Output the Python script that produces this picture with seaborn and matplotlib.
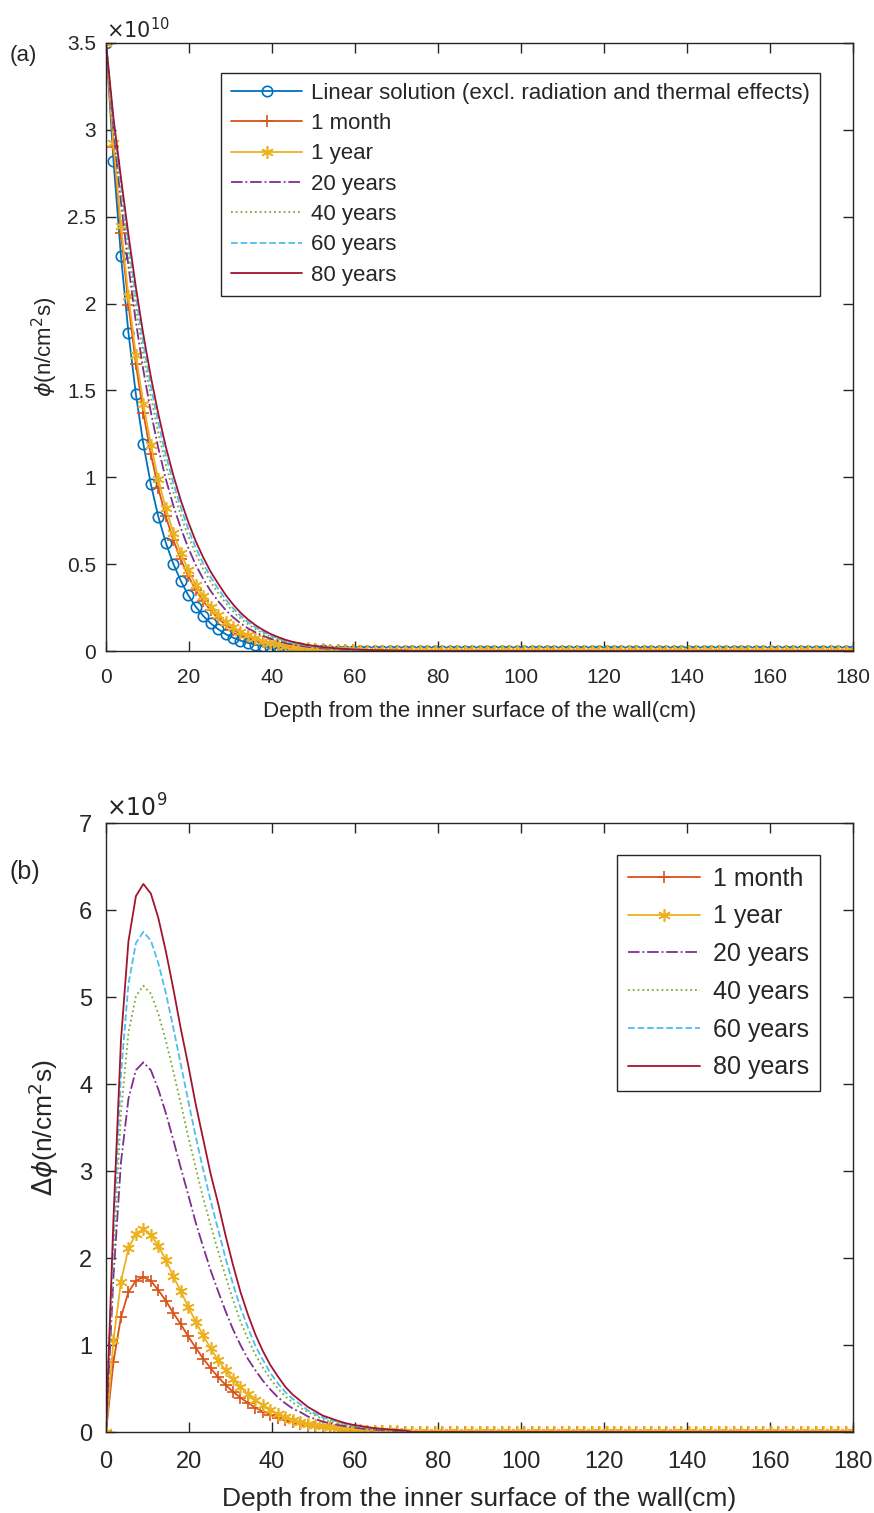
import numpy as np
import pandas as pd
import matplotlib
matplotlib.use("Agg")
import matplotlib.pyplot as plt
import seaborn as sns

# ==========================================
# DATA
# ==========================================
# depth grid in cm, one sample every 1.8 cm from 0 to 180
depth = np.linspace(0, 180, 101)

# --- panel (a): neutron flux phi, units of 1e10 n/cm^2 s
phi_linear = [
    3.5, 2.821, 2.274, 1.833, 1.477, 1.191, 0.960, 0.774, 0.624, 0.503,
    0.405, 0.322, 0.256, 0.203, 0.160, 0.126, 0.098, 0.077, 0.060, 0.047,
    0.037, 0.029, 0.022, 0.017, 0.013, 0.010, 0.0078, 0.006, 0.0046, 0.0035,
    0.0027, 0.002, 0.0015, 0.0012, 0.0009, 0.0007, 0.0005, 0.0004, 0.0003, 0.0002,
    0.0002,
    0, 0, 0, 0, 0, 0, 0, 0, 0, 0, 0, 0, 0, 0, 0, 0, 0, 0, 0, 0,
    0, 0, 0, 0, 0, 0, 0, 0, 0, 0, 0, 0, 0, 0, 0, 0, 0, 0, 0, 0,
    0, 0, 0, 0, 0, 0, 0, 0, 0, 0, 0, 0, 0, 0, 0, 0, 0, 0, 0, 0,
]
phi_1month = [
    3.5, 2.902, 2.406, 1.994, 1.651, 1.369, 1.134, 0.937, 0.775, 0.640,
    0.529, 0.432, 0.353, 0.288, 0.234, 0.189, 0.152, 0.123, 0.0995, 0.0805,
    0.0651, 0.0525, 0.0416, 0.0332, 0.0264, 0.021, 0.0169, 0.0135, 0.0107, 0.0085,
    0.0068, 0.0052, 0.0042, 0.0033, 0.0026, 0.002, 0.0016, 0.0013, 0.001, 0.0007,
    0.0006,
    0, 0, 0, 0, 0, 0, 0, 0, 0, 0, 0, 0, 0, 0, 0, 0, 0, 0, 0, 0,
    0, 0, 0, 0, 0, 0, 0, 0, 0, 0, 0, 0, 0, 0, 0, 0, 0, 0, 0, 0,
    0, 0, 0, 0, 0, 0, 0, 0, 0, 0, 0, 0, 0, 0, 0, 0, 0, 0, 0, 0,
]
phi_1year = [
    3.5, 2.927, 2.447, 2.044, 1.705, 1.424, 1.187, 0.988, 0.822, 0.682,
    0.567, 0.466, 0.383, 0.314, 0.256, 0.209, 0.169, 0.138, 0.112, 0.0908,
    0.0738, 0.0598, 0.0476, 0.0382, 0.0305, 0.0244, 0.0197, 0.0158, 0.0125, 0.01,
    0.0081, 0.0062, 0.005, 0.004, 0.0031, 0.0024, 0.0019, 0.0015, 0.0012, 0.0009,
    0.0008,
    0, 0, 0, 0, 0, 0, 0, 0, 0, 0, 0, 0, 0, 0, 0, 0, 0, 0, 0, 0,
    0, 0, 0, 0, 0, 0, 0, 0, 0, 0, 0, 0, 0, 0, 0, 0, 0, 0, 0, 0,
    0, 0, 0, 0, 0, 0, 0, 0, 0, 0, 0, 0, 0, 0, 0, 0, 0, 0, 0, 0,
]
phi_20y = [
    3.5, 3.000, 2.584, 2.216, 1.893, 1.616, 1.376, 1.168, 0.991, 0.839,
    0.709, 0.595, 0.497, 0.416, 0.346, 0.288, 0.237, 0.195, 0.160, 0.131,
    0.108, 0.088, 0.071, 0.057, 0.046, 0.037, 0.0308, 0.024, 0.0196, 0.0155,
    0.0127, 0.0101, 0.0083, 0.0067, 0.0052, 0.0041, 0.0033, 0.0025, 0.002, 0.0015,
    0.0013,
    0, 0, 0, 0, 0, 0, 0, 0, 0, 0, 0, 0, 0, 0, 0, 0, 0, 0, 0, 0,
    0, 0, 0, 0, 0, 0, 0, 0, 0, 0, 0, 0, 0, 0, 0, 0, 0, 0, 0, 0,
    0, 0, 0, 0, 0, 0, 0, 0, 0, 0, 0, 0, 0, 0, 0, 0, 0, 0, 0, 0,
]
phi_40y = [
    3.5, 3.021, 2.641, 2.292, 1.978, 1.704, 1.464, 1.255, 1.074, 0.918,
    0.783, 0.662, 0.560, 0.472, 0.398, 0.334, 0.277, 0.229, 0.187, 0.154,
    0.126, 0.103, 0.083, 0.067, 0.054, 0.044, 0.0358, 0.029, 0.0236, 0.0185,
    0.0147, 0.012, 0.0097, 0.0079, 0.0065, 0.0052, 0.0041, 0.0032, 0.0026, 0.002,
    0.0016,
    0, 0, 0, 0, 0, 0, 0, 0, 0, 0, 0, 0, 0, 0, 0, 0, 0, 0, 0, 0,
    0, 0, 0, 0, 0, 0, 0, 0, 0, 0, 0, 0, 0, 0, 0, 0, 0, 0, 0, 0,
    0, 0, 0, 0, 0, 0, 0, 0, 0, 0, 0, 0, 0, 0, 0, 0, 0, 0, 0, 0,
]
phi_60y = [
    3.5, 3.045, 2.685, 2.348, 2.039, 1.766, 1.525, 1.313, 1.129, 0.968,
    0.828, 0.703, 0.596, 0.505, 0.426, 0.359, 0.298, 0.247, 0.203, 0.167,
    0.136, 0.112, 0.090, 0.073, 0.059, 0.048, 0.0398, 0.031, 0.0256, 0.0205,
    0.0167, 0.014, 0.0107, 0.0087, 0.0072, 0.0057, 0.0045, 0.0036, 0.0028, 0.0022,
    0.0018,
    0, 0, 0, 0, 0, 0, 0, 0, 0, 0, 0, 0, 0, 0, 0, 0, 0, 0, 0, 0,
    0, 0, 0, 0, 0, 0, 0, 0, 0, 0, 0, 0, 0, 0, 0, 0, 0, 0, 0, 0,
    0, 0, 0, 0, 0, 0, 0, 0, 0, 0, 0, 0, 0, 0, 0, 0, 0, 0, 0, 0,
]
phi_80y = [
    3.5, 3.067, 2.724, 2.397, 2.093, 1.821, 1.579, 1.365, 1.177, 1.013,
    0.869, 0.744, 0.633, 0.540, 0.457, 0.389, 0.324, 0.269, 0.221, 0.182,
    0.149, 0.122, 0.099, 0.081, 0.065, 0.053, 0.0438, 0.035, 0.0286, 0.0225,
    0.0187, 0.015, 0.0119, 0.0096, 0.008, 0.0063, 0.005, 0.004, 0.0032, 0.0025,
    0.002,
    0, 0, 0, 0, 0, 0, 0, 0, 0, 0, 0, 0, 0, 0, 0, 0, 0, 0, 0, 0,
    0, 0, 0, 0, 0, 0, 0, 0, 0, 0, 0, 0, 0, 0, 0, 0, 0, 0, 0, 0,
    0, 0, 0, 0, 0, 0, 0, 0, 0, 0, 0, 0, 0, 0, 0, 0, 0, 0, 0, 0,
]

# --- panel (b): flux increase delta phi, units of 1e9 n/cm^2 s
dphi_1month = [
    0, 0.81, 1.32, 1.61, 1.74, 1.78, 1.74, 1.63, 1.51, 1.37,
    1.24, 1.10, 0.97, 0.845, 0.735, 0.632, 0.543, 0.463, 0.395, 0.335,
    0.281, 0.235, 0.196, 0.162, 0.134, 0.110, 0.091, 0.075, 0.061, 0.050,
    0.041, 0.032, 0.027, 0.021, 0.017, 0.013, 0.011, 0.009, 0.007, 0.005,
    0.004,
    0, 0, 0, 0, 0, 0, 0, 0, 0, 0, 0, 0, 0, 0, 0, 0, 0, 0, 0, 0,
    0, 0, 0, 0, 0, 0, 0, 0, 0, 0, 0, 0, 0, 0, 0, 0, 0, 0, 0, 0,
    0, 0, 0, 0, 0, 0, 0, 0, 0, 0, 0, 0, 0, 0, 0, 0, 0, 0, 0, 0,
]
dphi_1year = [
    0, 1.06, 1.73, 2.11, 2.28, 2.33, 2.27, 2.14, 1.98, 1.79,
    1.62, 1.44, 1.27, 1.11, 0.962, 0.827, 0.711, 0.606, 0.517, 0.438,
    0.368, 0.308, 0.256, 0.212, 0.175, 0.144, 0.119, 0.098, 0.079, 0.065,
    0.054, 0.042, 0.035, 0.028, 0.022, 0.017, 0.014, 0.011, 0.009, 0.007,
    0.006,
    0, 0, 0, 0, 0, 0, 0, 0, 0, 0, 0, 0, 0, 0, 0, 0, 0, 0, 0, 0,
    0, 0, 0, 0, 0, 0, 0, 0, 0, 0, 0, 0, 0, 0, 0, 0, 0, 0, 0, 0,
    0, 0, 0, 0, 0, 0, 0, 0, 0, 0, 0, 0, 0, 0, 0, 0, 0, 0, 0, 0,
]
dphi_20y = [
    0, 1.79, 3.10, 3.83, 4.16, 4.25, 4.16, 3.94, 3.67, 3.36,
    3.04, 2.73, 2.41, 2.13, 1.86, 1.62, 1.39, 1.18, 1.00, 0.84,
    0.71, 0.59, 0.49, 0.40, 0.33, 0.27, 0.23, 0.18, 0.15, 0.12,
    0.10, 0.081, 0.068, 0.055, 0.043, 0.034, 0.028, 0.021, 0.017, 0.013,
    0.011,
    0, 0, 0, 0, 0, 0, 0, 0, 0, 0, 0, 0, 0, 0, 0, 0, 0, 0, 0, 0,
    0, 0, 0, 0, 0, 0, 0, 0, 0, 0, 0, 0, 0, 0, 0, 0, 0, 0, 0, 0,
    0, 0, 0, 0, 0, 0, 0, 0, 0, 0, 0, 0, 0, 0, 0, 0, 0, 0, 0, 0,
]
dphi_40y = [
    0, 2.00, 3.67, 4.59, 5.01, 5.13, 5.04, 4.81, 4.50, 4.15,
    3.78, 3.40, 3.04, 2.69, 2.38, 2.08, 1.79, 1.52, 1.27, 1.07,
    0.89, 0.74, 0.61, 0.50, 0.41, 0.34, 0.28, 0.23, 0.19, 0.15,
    0.12, 0.10, 0.082, 0.067, 0.056, 0.045, 0.036, 0.028, 0.023, 0.018,
    0.014,
    0, 0, 0, 0, 0, 0, 0, 0, 0, 0, 0, 0, 0, 0, 0, 0, 0, 0, 0, 0,
    0, 0, 0, 0, 0, 0, 0, 0, 0, 0, 0, 0, 0, 0, 0, 0, 0, 0, 0, 0,
    0, 0, 0, 0, 0, 0, 0, 0, 0, 0, 0, 0, 0, 0, 0, 0, 0, 0, 0, 0,
]
dphi_60y = [
    0, 2.24, 4.11, 5.15, 5.62, 5.75, 5.65, 5.39, 5.05, 4.65,
    4.23, 3.81, 3.40, 3.02, 2.66, 2.33, 2.00, 1.70, 1.43, 1.20,
    0.99, 0.83, 0.68, 0.56, 0.46, 0.38, 0.32, 0.25, 0.21, 0.17,
    0.14, 0.12, 0.092, 0.075, 0.063, 0.050, 0.040, 0.032, 0.025, 0.020,
    0.016,
    0, 0, 0, 0, 0, 0, 0, 0, 0, 0, 0, 0, 0, 0, 0, 0, 0, 0, 0, 0,
    0, 0, 0, 0, 0, 0, 0, 0, 0, 0, 0, 0, 0, 0, 0, 0, 0, 0, 0, 0,
    0, 0, 0, 0, 0, 0, 0, 0, 0, 0, 0, 0, 0, 0, 0, 0, 0, 0, 0, 0,
]
dphi_80y = [
    0, 2.46, 4.50, 5.64, 6.16, 6.30, 6.19, 5.91, 5.53, 5.10,
    4.64, 4.22, 3.77, 3.37, 2.97, 2.63, 2.26, 1.92, 1.61, 1.35,
    1.12, 0.93, 0.77, 0.64, 0.52, 0.43, 0.36, 0.29, 0.24, 0.19,
    0.16, 0.13, 0.104, 0.084, 0.071, 0.056, 0.045, 0.036, 0.029, 0.023,
    0.018,
    0, 0, 0, 0, 0, 0, 0, 0, 0, 0, 0, 0, 0, 0, 0, 0, 0, 0, 0, 0,
    0, 0, 0, 0, 0, 0, 0, 0, 0, 0, 0, 0, 0, 0, 0, 0, 0, 0, 0, 0,
    0, 0, 0, 0, 0, 0, 0, 0, 0, 0, 0, 0, 0, 0, 0, 0, 0, 0, 0, 0,
]

labels_a = ["Linear solution (excl. radiation and thermal effects)", "1 month",
            "1 year", "20 years", "40 years", "60 years", "80 years"]
labels_b = labels_a[1:]

# ==========================================
# STYLE (MATLAB-like defaults)
# ==========================================
ASTERISK = (6, 2, 0)  # line asterisk like MATLAB's '*'
# label -> (color, linestyle, marker, markersize)
styles = {
    labels_a[0]: ("#0072BD", "-", "o", 7.5),
    "1 month": ("#D95319", "-", "+", 8),
    "1 year": ("#EDB120", "-", ASTERISK, 9),
    "20 years": ("#7E2F8E", "-.", None, 0),
    "40 years": ("#77AC30", ":", None, 0),
    "60 years": ("#4DBEEE", "--", None, 0),
    "80 years": ("#A2142F", "-", None, 0),
}

sns.set_theme(style="ticks")
plt.rcParams["font.family"] = ["Liberation Sans", "DejaVu Sans"]
plt.rcParams["axes.edgecolor"] = "#262626"
plt.rcParams["xtick.color"] = "#262626"
plt.rcParams["ytick.color"] = "#262626"

fig = plt.figure(figsize=(8.74, 15.13), dpi=100)
ax_a = fig.add_axes([0.1213, 0.5697, 0.8547, 0.4019])
ax_b = fig.add_axes([0.1213, 0.0535, 0.8547, 0.4025])


def draw(ax, names, series):
    long = pd.concat(
        [pd.DataFrame({"depth": depth, "value": vals, "case": name})
         for name, vals in zip(names, series)],
        ignore_index=True,
    )
    for name in names:
        color, ls, marker, ms = styles[name]
        sub = long[long["case"] == name]
        sns.lineplot(data=sub, x="depth", y="value", ax=ax, color=color,
                     linestyle=ls, marker=marker if marker else "",
                     markersize=ms, markeredgecolor=color,
                     markeredgewidth=1.2, markerfacecolor="none",
                     linewidth=1.3, label=name, sort=False)


def style_axes(ax, ymax, tick_fs, label_fs, ylabel, exponent,
               xpad, ypad, xlpad, ylpad):
    ax.set_xlim(0, 180)
    ax.set_ylim(0, ymax)
    ax.set_xticks(np.arange(0, 181, 20))
    ax.tick_params(direction="in", top=True, right=True, length=7,
                   width=1, labelsize=tick_fs, labelcolor="#262626")
    ax.tick_params(axis="x", pad=xpad)
    ax.tick_params(axis="y", pad=ypad)
    for sp in ax.spines.values():
        sp.set_linewidth(1.0)
        sp.set_visible(True)
    ax.set_xlabel("Depth from the inner surface of the wall(cm)",
                  fontsize=label_fs, color="#262626", labelpad=xlpad)
    ax.set_ylabel(ylabel, fontsize=label_fs, color="#262626", labelpad=ylpad)
    ax.text(0.0, 1.002, r"$\times10^{%d}$" % exponent, transform=ax.transAxes,
            ha="left", va="bottom", fontsize=tick_fs, color="#262626")


# ---- panel (a)
draw(ax_a, labels_a, [phi_linear, phi_1month, phi_1year, phi_20y,
                      phi_40y, phi_60y, phi_80y])
style_axes(ax_a, 3.5, 15, 16, r"$\phi$(n/cm$^2$s)", 10,
           xpad=12, ypad=7, xlpad=10, ylpad=5)
ax_a.set_yticks(np.arange(0, 3.51, 0.5))
ax_a.set_yticklabels(["0", "0.5", "1", "1.5", "2", "2.5", "3", "3.5"],
                     fontsize=15)
leg = ax_a.legend(loc="upper right", bbox_to_anchor=(0.956, 0.951),
                  borderaxespad=0, fontsize=16, frameon=True, fancybox=False,
                  framealpha=1, edgecolor="#262626", handlelength=3.2,
                  labelspacing=0.42, borderpad=0.45, handletextpad=0.4)
leg.get_frame().set_linewidth(1.0)

# ---- panel (b)
draw(ax_b, labels_b, [dphi_1month, dphi_1year, dphi_20y, dphi_40y,
                      dphi_60y, dphi_80y])
style_axes(ax_b, 7, 17, 19, r"$\Delta\phi$(n/cm$^2$s)", 9,
           xpad=14, ypad=10, xlpad=10, ylpad=13)
ax_b.set_yticks(np.arange(0, 8, 1))
leg = ax_b.legend(loc="upper right", bbox_to_anchor=(0.956, 0.947),
                  borderaxespad=0, fontsize=18, frameon=True, fancybox=False,
                  framealpha=1, edgecolor="#262626", handlelength=2.9,
                  labelspacing=0.55, borderpad=0.45, handletextpad=0.5)
leg.get_frame().set_linewidth(1.0)

fig.text(0.011, 0.9636, "(a)", fontsize=16, va="center", ha="left")
fig.text(0.011, 0.4237, "(b)", fontsize=18, va="center", ha="left")

fig.savefig("out.png", dpi=100, facecolor="white")
